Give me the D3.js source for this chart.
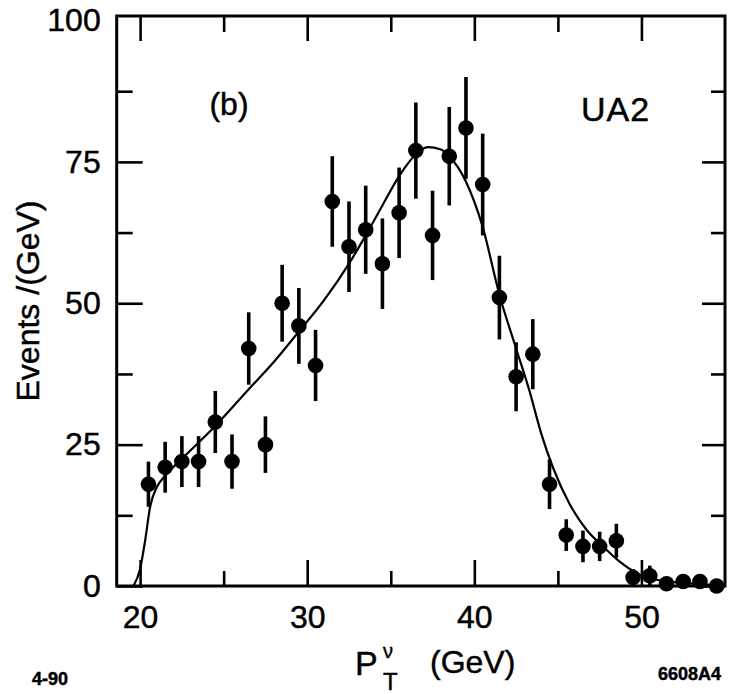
<!DOCTYPE html>
<html>
<head>
<meta charset="utf-8">
<script src="https://cdn.jsdelivr.net/npm/d3@7"></script>
<style>
  body { margin: 0; background: #fff; }
  svg text { font-family: "Liberation Sans", Arial, Helvetica, sans-serif; fill: #000; stroke: #000; stroke-width: 0.45px; }
</style>
</head>
<body>
<svg id="chart" width="729" height="694"></svg>
<script>
// Transverse neutrino momentum spectrum, 1 GeV bins
const binCentres = [20.5, 21.5, 22.5, 23.5, 24.5, 25.5, 26.5, 27.5, 28.5, 29.5,
                    30.5, 31.5, 32.5, 33.5, 34.5, 35.5, 36.5, 37.5, 38.5, 39.5,
                    40.5, 41.5, 42.5, 43.5, 44.5, 45.5, 46.5, 47.5, 48.5, 49.5,
                    50.5, 51.5, 52.5, 53.5, 54.5];
const events = [18, 21, 22, 22, 29, 22, 42, 25, 50, 46,
                39, 68, 60, 63, 57, 66, 77, 62, 76, 81,
                71, 51, 37, 41, 18, 9, 7, 7, 8, 1.5,
                1.8, 0.4, 0.8, 0.8, 0];
const errors = [4, 4.5, 4.5, 4.5, 5.5, 4.8, 6.4, 5, 6.8, 6.7,
                6.3, 8, 8, 7.8, 8, 8, 8.5, 7.9, 8.7, 9,
                9, 7.4, 6.1, 6.2, 4.4, 2.8, 2.8, 2.6, 3, 1.5,
                1.8, 0, 0, 0, 0];

// Fitted spectrum
const fitPt = [19.6, 20.0, 20.3, 20.6, 21.0, 21.5, 22.5, 24.5, 26.5, 28.0,
               29.5, 31.0, 32.5, 33.5, 34.5, 35.5, 36.5, 37.2, 38.0, 38.5,
               39.5, 40.5, 41.5, 42.5, 43.3, 44.0, 44.7, 45.7, 46.7, 47.7,
               48.7, 49.7, 50.9, 52.7, 55.0];
const fitEvents = [0, 3, 8, 14, 17.5, 19.5, 22.5, 28.3, 34.8, 39.6,
                   45, 50.5, 57, 62, 67.3, 72.5, 76.3, 77.6, 77.2, 76,
                   71.5, 63.5, 51.5, 42, 34.5, 27, 21, 14.5, 10, 7,
                   4.3, 2.3, 1.1, 0.5, 0.1];

const yLabelValues = [0, 25, 50, 75, 100];
const yMajorTicks = [0, 25, 50, 75];
const yMinorTicks = [12.5, 37.5, 62.5, 87.5];
const xLabelValues = [20, 30, 40, 50];
const xMajorTicks = [20, 30, 40, 50];
const xMinorTicks = [25, 35, 45];

const svg = d3.select("#chart");
svg.append("rect").attr("width", 729).attr("height", 694).attr("fill", "#fff");

const plot = { left: 116.7, right: 725, top: 16, bottom: 586 };
const x = d3.scaleLinear().domain([18.6, 55]).range([plot.left, plot.right]);
const y = d3.scaleLinear().domain([0, 100.8]).range([plot.bottom, plot.top]);

// tick marks on all four sides, pointing inward
function tickLayer(axis, transform, values, size) {
  const g = svg.append("g").attr("transform", transform)
    .call(axis.tickValues(values).tickSize(size).tickFormat(""));
  g.select(".domain").remove();
  g.selectAll(".tick line").attr("stroke", "#000").attr("stroke-width", 2.6);
  return g;
}
tickLayer(d3.axisBottom(x), `translate(0,${plot.bottom})`, xMajorTicks, -26);
tickLayer(d3.axisBottom(x), `translate(0,${plot.bottom})`, xMinorTicks, -15);
tickLayer(d3.axisTop(x), `translate(0,${plot.top})`, xMajorTicks, -25);
tickLayer(d3.axisTop(x), `translate(0,${plot.top})`, xMinorTicks, -16);
tickLayer(d3.axisLeft(y), `translate(${plot.left},0)`, yMajorTicks, -26);
tickLayer(d3.axisLeft(y), `translate(${plot.left},0)`, yMinorTicks, -16);
tickLayer(d3.axisRight(y), `translate(${plot.right},0)`, yMajorTicks, -23);
tickLayer(d3.axisRight(y), `translate(${plot.right},0)`, yMinorTicks, -14);

// frame
svg.append("rect")
  .attr("x", plot.left).attr("y", plot.top)
  .attr("width", plot.right - plot.left).attr("height", plot.bottom - plot.top)
  .attr("fill", "none").attr("stroke", "#000").attr("stroke-width", 3);

// tick labels
const xLab = svg.append("g").attr("transform", `translate(0,${plot.bottom})`)
  .call(d3.axisBottom(x).tickValues(xLabelValues).tickSize(0).tickPadding(19).tickFormat(d3.format("d")));
xLab.select(".domain").remove();
xLab.selectAll("text").attr("font-size", 32).attr("font-family", null);

const yLab = svg.append("g").attr("transform", `translate(${plot.left},0)`)
  .call(d3.axisLeft(y).tickValues(yLabelValues).tickSize(0).tickPadding(16).tickFormat(d3.format("d")));
yLab.select(".domain").remove();
yLab.selectAll("text").attr("font-size", 32).attr("font-family", null);

// fitted curve
const line = d3.line().x(d => x(d[0])).y(d => y(d[1])).curve(d3.curveMonotoneX);
svg.append("path")
  .datum(d3.zip(fitPt, fitEvents))
  .attr("d", line)
  .attr("fill", "none").attr("stroke", "#000").attr("stroke-width", 2.2);

// data: error bars and markers
const pts = d3.zip(binCentres, events, errors);
svg.append("g").selectAll("line").data(pts.filter(d => d[2] > 0)).join("line")
  .attr("x1", d => x(d[0])).attr("x2", d => x(d[0]))
  .attr("y1", d => y(d[1] - d[2])).attr("y2", d => y(d[1] + d[2]))
  .attr("stroke", "#000").attr("stroke-width", 3.6);
svg.append("g").selectAll("circle").data(pts).join("circle")
  .attr("cx", d => x(d[0])).attr("cy", d => y(d[1])).attr("r", 7.8)
  .attr("fill", "#000");

// annotations
svg.append("text").attr("x", 229).attr("y", 115).attr("text-anchor", "middle")
  .attr("font-size", 32).text("(b)");
svg.append("text").attr("x", 581).attr("y", 121).attr("font-size", 34)
  .attr("letter-spacing", 1).text("UA2");

// axis titles
svg.append("text")
  .attr("transform", `translate(39,${(plot.top + plot.bottom) / 2}) rotate(-90)`)
  .attr("text-anchor", "middle").attr("font-size", 32).text("Events /(GeV)");

const xt = svg.append("g");
xt.append("text").attr("x", 355).attr("y", 675).attr("font-size", 34).text("P");
xt.append("text").attr("x", 383).attr("y", 658).attr("font-size", 20).text("ν");
xt.append("text").attr("x", 383).attr("y", 690).attr("font-size", 24).text("T");
xt.append("text").attr("x", 430).attr("y", 673).attr("font-size", 32).text("(GeV)");

svg.append("text").attr("x", 32).attr("y", 685).attr("font-size", 18)
  .attr("font-weight", "bold").text("4-90");
svg.append("text").attr("x", 721).attr("y", 680).attr("font-size", 18)
  .attr("font-weight", "bold").attr("text-anchor", "end").text("6608A4");
</script>
</body>
</html>
